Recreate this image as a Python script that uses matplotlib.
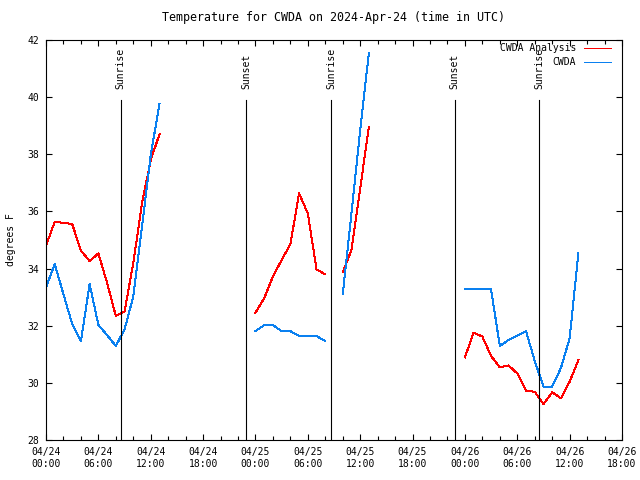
import matplotlib
matplotlib.use('Agg')
import matplotlib.pyplot as plt
import matplotlib.dates as mdates
import numpy as np

plt.rcParams['font.family'] = ['DejaVu Sans Mono']
plt.rcParams['font.size'] = 7

start = np.datetime64('2024-04-24T00:00')

# hours after 04/24 00:00 UTC, one list per stretch of data
ana_hours = [
    [0, 1, 2, 3, 4, 5, 6, 7, 8, 9, 10, 11, 12, 13],
    [24, 25, 26, 27, 28, 29, 30, 31, 32],
    [34, 35, 36, 37],
    [48, 49, 50, 51, 52, 53, 54, 55, 56, 57, 58, 59, 60, 61],
]
ana_temp = [
    [34.8, 35.64, 35.6, 35.56, 34.63, 34.26, 34.53, 33.5, 32.34, 32.5, 34.19, 36.28, 37.8, 38.7],
    [32.45, 32.96, 33.72, 34.3, 34.85, 36.63, 35.93, 33.97, 33.8],
    [33.87, 34.65, 36.8, 38.97],
    [30.89, 31.76, 31.62, 30.94, 30.54, 30.61, 30.33, 29.72, 29.69, 29.26, 29.67, 29.46, 30.04, 30.8],
]
obs_hours = [
    [0, 1, 2, 3, 4, 5, 6, 7, 8, 9, 10, 11, 12, 13],
    [24, 25, 26, 27, 28, 29, 30, 31, 32],
    [34, 35, 36, 37],
    [48, 49, 50, 51, 52, 53, 54, 55, 56, 57, 58, 59, 60, 61],
]
obs_temp = [
    [33.34, 34.16, 33.1, 32.06, 31.46, 33.46, 32.03, 31.67, 31.29, 31.87, 33.02, 35.47, 37.97, 39.76],
    [31.81, 32.02, 32.02, 31.81, 31.81, 31.64, 31.64, 31.64, 31.46],
    [33.1, 35.93, 38.85, 41.56],
    [33.27, 33.27, 33.27, 33.27, 31.29, 31.5, 31.65, 31.81, 30.77, 29.87, 29.87, 30.52, 31.56, 34.53],
]
sun_hours = [8.55, 22.95, 32.65, 46.85, 56.5]
sun_names = ['Sunrise', 'Sunset', 'Sunrise', 'Sunset', 'Sunrise']


def to_time(hours):
    return start + (np.array(hours) * 60).astype('timedelta64[m]')


fig = plt.figure(figsize=(6.4, 4.8), dpi=100)
ax = fig.add_axes([46 / 640, 40 / 480, 576 / 640, 400 / 480])

red = '#ff0000'
blue = '#0a80f0'
for h, v in zip(ana_hours, ana_temp):
    ax.plot(to_time(h), v, color=red, lw=0.72, antialiased=False)
for h, v in zip(obs_hours, obs_temp):
    ax.plot(to_time(h), v, color=blue, lw=0.72, antialiased=False)

for h, name in zip(sun_hours, sun_names):
    t = to_time([h])[0]
    ax.axvline(t, ymin=0, ymax=0.85, color='black', lw=0.8)
    ax.text(t, 40.28, name, rotation=90, ha='center', va='bottom')

ax.set_xlim(to_time([0])[0], to_time([66])[0])
ax.set_ylim(28, 42)
ax.set_yticks(np.arange(28, 43, 2))
ax.xaxis.set_major_locator(mdates.HourLocator(byhour=[0, 6, 12, 18]))
ax.xaxis.set_minor_locator(mdates.HourLocator(interval=2))
ax.xaxis.set_major_formatter(mdates.DateFormatter('%m/%d\n%H:%M'))
ax.tick_params(which='both', direction='in', top=True, right=True, length=4, width=0.8, pad=5)
ax.tick_params(which='minor', length=3)
for s in ax.spines.values():
    s.set_linewidth(0.8)

ax.set_ylabel('degrees F', labelpad=8)
ax.set_title('Temperature for CWDA on 2024-Apr-24 (time in UTC)', pad=14)

# key in the top right corner
ax.text(0.920, 0.979, 'CWDA Analysis', transform=ax.transAxes, ha='right', va='center')
ax.plot([0.934, 0.981], [0.979, 0.979], color=red, lw=0.72, transform=ax.transAxes)
ax.text(0.920, 0.944, 'CWDA', transform=ax.transAxes, ha='right', va='center')
ax.plot([0.934, 0.981], [0.944, 0.944], color=blue, lw=0.72, transform=ax.transAxes)

fig.savefig('out.png', dpi=100)
